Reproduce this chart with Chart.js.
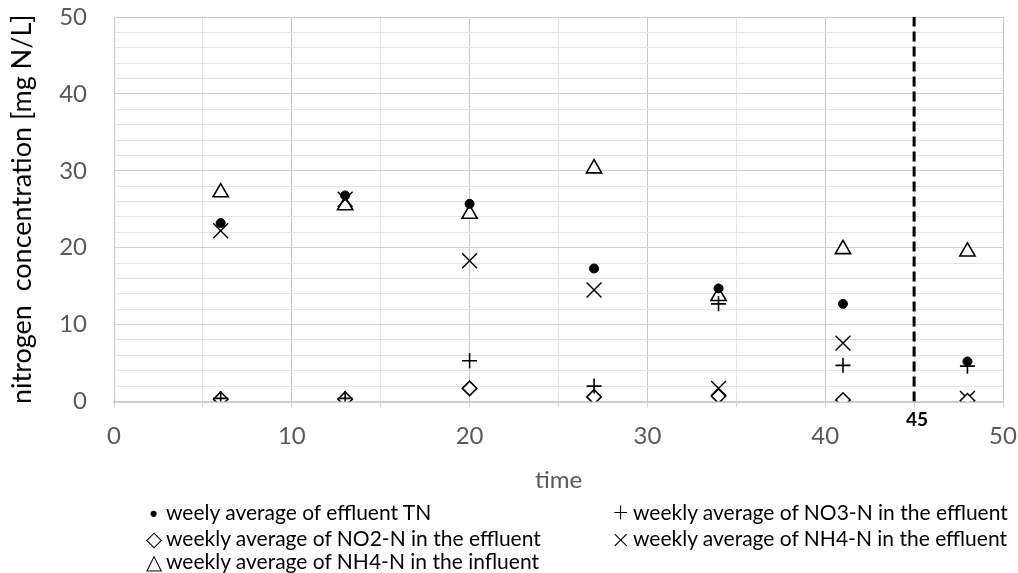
<!DOCTYPE html>
<html>
<head>
<meta charset="utf-8">
<script src="https://cdn.jsdelivr.net/npm/chart.js@4.4.1/dist/chart.umd.min.js"></script>
<style>
  html, body { margin: 0; padding: 0; background: #fff; }
  #wrap { position: relative; width: 1018px; height: 573px; }
  #chart { position: absolute; left: 0; top: 0; }
  #legend { position: absolute; left: 0; top: 0; width: 1018px; height: 573px; pointer-events: none;
            font-family: Lato, "Open Sans", sans-serif; font-size: 21px; color: #000; }
  #legend .item { position: absolute; white-space: nowrap; line-height: 24px; }
  #legend .glyph { display: inline-block; text-align: center; width: 17px; margin-right: 4px;
                   font-weight: 300; vertical-align: top; }
</style>
</head>
<body>
<div id="wrap">
  <canvas id="chart" width="1018" height="573"></canvas>
  <div id="legend"></div>
</div>
<script>
// Sampling weeks (days since start-up)
const weeks = [6, 13, 20, 27, 34, 41, 48];

// Weekly averages, mg N/L
const effluentTN  = [23.2, 26.8, 25.7, 17.3, 14.7, 12.7, 5.2];
const effluentNO3 = [0.4, 0.4, 5.3, 2.0, 12.7, 4.7, 4.6];
const effluentNO2 = [0.3, 0.3, 1.7, 0.6, 0.7, 0.2, 0.1];
const effluentNH4 = [22.2, 26.3, 18.3, 14.5, 1.7, 7.6, 0.4];
const influentNH4 = [27.2, 25.5, 24.4, 30.3, 13.7, 19.8, 19.5];

// Series names and the glyphs shown in front of them in the legend
const seriesLabels = [
  'weely average of effluent TN',
  'weekly average of NO3-N in the effluent',
  'weekly average of NO2-N in the effluent',
  'weekly average of NH4-N in the effluent',
  'weekly average of NH4-N in the influent'
];
const legendGlyphs = ['\u2022', '+', '\u25C7', '\u00D7', '\u25B3'];
const glyphSizes = [21, 27, 21, 30, 21];

// Axis ranges and the phase-change marker
const xRange = [0, 50];
const yRange = [0, 50];
const phaseChange = [45];

const FONT = 'Lato, "Open Sans", sans-serif';
const INK = '#000000';

function pts(values) {
  return values.map((v, i) => ({ x: weeks[i], y: v }));
}

const markerStyles = [
  { pointStyle: 'circle',    pointRadius: 4.5, backgroundColor: INK,    borderWidth: 1 },
  { pointStyle: 'cross',     pointRadius: 7.5, backgroundColor: INK,    borderWidth: 1.6 },
  { pointStyle: 'rectRot',   pointRadius: 7.2, backgroundColor: '#fff', borderWidth: 1.6 },
  { pointStyle: 'crossRot',  pointRadius: 10.5, backgroundColor: INK,   borderWidth: 1.4 },
  { pointStyle: 'triangle',  pointRadius: 8.8, backgroundColor: '#fff', borderWidth: 1.6 }
];
const seriesValues = [effluentTN, effluentNO3, effluentNO2, effluentNH4, influentNH4];

const datasets = seriesValues.map((vals, i) => Object.assign({
  type: 'scatter',
  label: seriesLabels[i],
  data: pts(vals),
  borderColor: INK,
  pointHoverRadius: markerStyles[i].pointRadius,
  showLine: false
}, markerStyles[i]));

// Dashed vertical line marking the phase change
datasets.push({
  type: 'line',
  label: 'phase change',
  data: [{ x: phaseChange[0], y: yRange[0] }, { x: phaseChange[0], y: yRange[1] }],
  borderColor: INK,
  borderWidth: 3,
  borderDash: [10, 5],
  pointRadius: 0,
  fill: false
});

const phaseLabel = {
  id: 'phaseLabel',
  afterDraw(chart) {
    const { ctx, chartArea, scales } = chart;
    ctx.save();
    ctx.font = 'bold 19px ' + FONT;
    ctx.fillStyle = INK;
    ctx.textAlign = 'center';
    ctx.textBaseline = 'middle';
    ctx.fillText(String(phaseChange[0]), scales.x.getPixelForValue(phaseChange[0]) + 3, chartArea.bottom + 18);
    ctx.restore();
  }
};

new Chart(document.getElementById('chart'), {
  type: 'scatter',
  data: { datasets },
  options: {
    responsive: false,
    animation: false,
    layout: { autoPadding: false, padding: { top: 17, right: 15, left: 0, bottom: 0 } },
    plugins: { legend: { display: false }, tooltip: { enabled: false } },
    scales: {
      x: {
        type: 'linear',
        min: xRange[0], max: xRange[1],
        afterFit(s) { s.height = 171.5; s.paddingLeft = 0; s.paddingRight = 0; },
        ticks: {
          stepSize: 5, autoSkip: false, maxRotation: 0,
          callback: v => (v % 10 === 0 ? v : ''),
          color: '#595959', font: { family: FONT, size: 24 }, padding: 14
        },
        grid: {
          color: c => (c.tick && c.tick.value % 10 === 0 ? '#c8c8c8' : '#e4e4e4'),
          lineWidth: 1, drawTicks: true, tickLength: 6, tickColor: '#d6d6d6'
        },
        border: { display: true, color: '#cdcdcd', width: 2 },
        title: {
          display: true, text: 'time', color: '#595959',
          font: { family: FONT, size: 24 }, padding: { top: 0, bottom: 78 }
        }
      },
      y: {
        type: 'linear',
        min: yRange[0], max: yRange[1],
        afterFit(s) { s.width = 114; s.paddingTop = 0; s.paddingBottom = 0; },
        ticks: {
          stepSize: 2, autoSkip: false,
          callback: v => (v % 10 === 0 ? v : ''),
          color: '#595959', font: { family: FONT, size: 24 }, padding: 27
        },
        grid: {
          color: c => (c.tick && c.tick.value % 10 === 0 ? '#d0d0d0' : '#e4e4e4'),
          lineWidth: 1, drawTicks: false
        },
        border: { display: false },
        title: {
          display: true, text: 'nitrogen  concentration [mg N/L]', color: INK,
          font: { family: FONT, size: 27 }, padding: { top: 6, bottom: 0 }
        }
      }
    }
  },
  plugins: [phaseLabel]
});

// Two-column legend under the axis title
const legendBox = document.getElementById('legend');
const colLeft = [145, 612];
const rowTop = [500, 526, 549];
seriesLabels.forEach((text, i) => {
  const el = document.createElement('div');
  el.className = 'item';
  el.style.left = colLeft[i % 2] + 'px';
  el.style.top = rowTop[Math.floor(i / 2)] + 'px';
  const g = document.createElement('span');
  g.className = 'glyph';
  g.style.fontSize = glyphSizes[i] + 'px';
  g.textContent = legendGlyphs[i];
  el.appendChild(g);
  el.appendChild(document.createTextNode(text));
  legendBox.appendChild(el);
});
</script>
</body>
</html>
